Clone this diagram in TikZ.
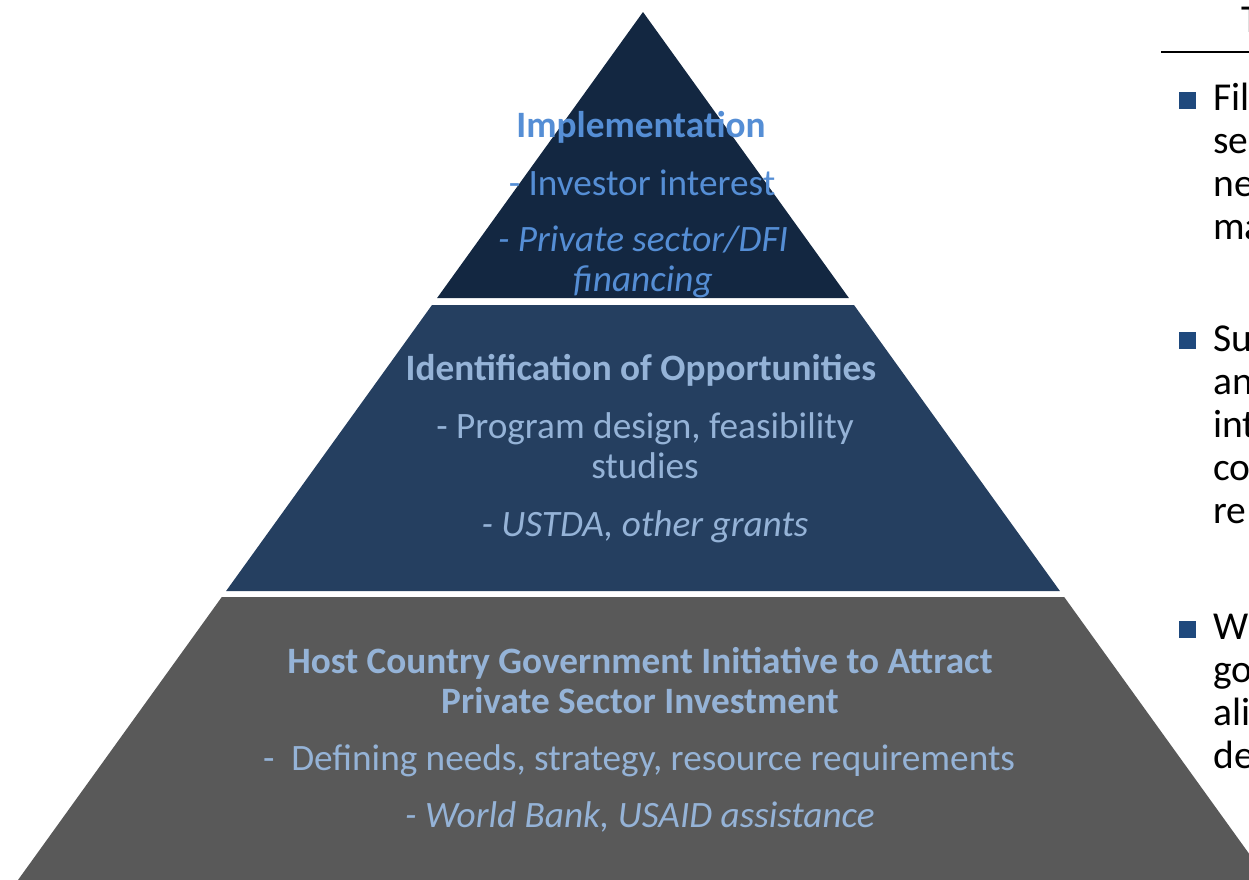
\documentclass[tikz,border=0pt]{standalone}
\usepackage{fontspec}
\setmainfont{Carlito}
\usetikzlibrary{positioning}
\definecolor{apexnavy}{RGB}{19,39,65}
\definecolor{midnavy}{RGB}{37,63,96}
\definecolor{basegray}{RGB}{89,89,89}
\definecolor{skyblue}{RGB}{85,142,213}
\definecolor{paleblue}{RGB}{149,179,215}
\definecolor{bulletblue}{RGB}{31,73,125}
\tikzset{
  tiertext/.style={anchor=base, align=center, inner sep=0pt,
                   font=\fontsize{21.2}{22.7}\selectfont},
  toptext/.style={tiertext, text=skyblue},
  lowtext/.style={tiertext, text=paleblue},
  sidetext/.style={anchor=base west, align=left, inner sep=0pt,
                   font=\fontsize{22.5}{24.4}\selectfont},
  bulletbox/.style={fill=bulletblue, minimum size=0.34cm, inner sep=0pt}
}

\begin{document}
\begin{tikzpicture}[x=0.02cm, y=-0.02cm]
  \useasboundingbox (0,0) rectangle (1249,880);
  \clip (0,0) rectangle (1249,880);
  % pyramid tiers
  \fill[apexnavy] (643,12) -- (848.9,298) -- (437.1,298) -- cycle;
  \fill[midnavy] (432.0,305) -- (854.0,305) -- (1059.9,591) -- (226.1,591) -- cycle;
  \fill[basegray] (221.8,597) -- (1064.2,597) -- (1268,880) -- (18,880) -- cycle;
  % tier labels (multi-line nodes sit on their last baseline)
  \node[toptext, font=\fontsize{21.2}{22.7}\selectfont\bfseries] (impl) at (641,137) {Implementation};
  \node[toptext] (implinv) at (642,195) {- Investor interest};
  \node[toptext, font=\fontsize{21.2}{22.7}\selectfont\itshape] (implfin) at (643,291) {- Private sector/DFI\\financing};
  \node[lowtext, font=\fontsize{21.2}{22.7}\selectfont\bfseries] (ident) at (641,380) {Identification of Opportunities};
  \node[lowtext] (identprog) at (645,478) {- Program design, feasibility\\studies};
  \node[lowtext, font=\fontsize{21.2}{22.7}\selectfont\itshape] (identgrant) at (645,536) {- USTDA, other grants};
  \node[lowtext, font=\fontsize{21.2}{22.7}\selectfont\bfseries] (host) at (640,713) {Host Country Government Initiative to Attract\\Private Sector Investment};
  \node[lowtext] (hostneed) at (639,770) {-\ \ Defining needs, strategy, resource requirements};
  \node[lowtext, font=\fontsize{21.2}{22.7}\selectfont\itshape] (hostaid) at (640,827) {- World Bank, USAID assistance};
  % side column
  \node[sidetext] (sidetitle) at (1241,32) {T};
  \coordinate (ruleL) at (1161,52);
  \coordinate (ruleR) at (1249,52);
  \draw[line width=1.5pt] (ruleL) -- (ruleR);
  \node[bulletbox] (dotA) at (1187.5,100.5) {};
  \node[bulletbox] (dotB) at (1187.5,340) {};
  \node[bulletbox] (dotC) at (1187.5,629) {};
  \node[sidetext] (sideA) at (1213,239) {Fil\\se\\ne\\ma};
  \node[sidetext] (sideB) at (1213,523) {Su\\an\\int\\co\\re};
  \node[sidetext] (sideC) at (1213,768) {W\\go\\ali\\de};
\end{tikzpicture}
\end{document}
